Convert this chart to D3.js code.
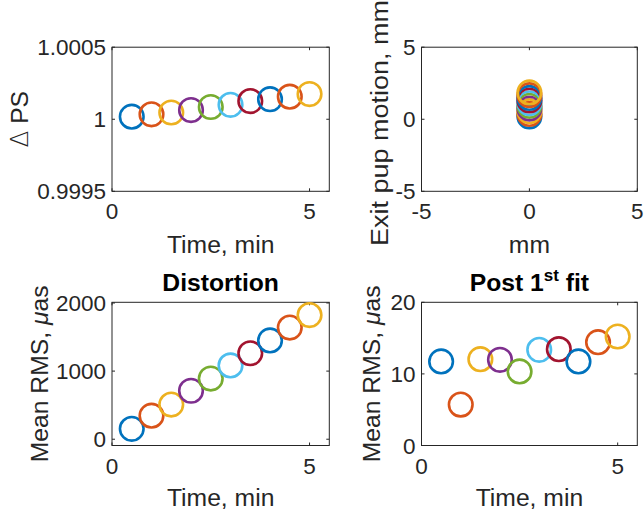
<!DOCTYPE html>
<html><head><meta charset="utf-8">
<script src="https://cdn.jsdelivr.net/npm/d3@7"></script>
<style>body{margin:0;background:#fff}svg{display:block}</style>
</head><body>
<script>
// ---- data ----
const times = [0.5, 1, 1.5, 2, 2.5, 3, 3.5, 4, 4.5, 5];
const deltaPS = [1.000018, 1.000034, 1.000047, 1.000064, 1.000085, 1.0001, 1.000126, 1.000139, 1.000157, 1.000175];
const pupX = [0, 0, 0, 0, 0, 0, 0, 0, 0, 0];
const pupY = [0.19, 0.37, 0.56, 0.74, 0.93, 1.11, 1.30, 1.48, 1.67, 1.86];
const distortionRMS = [153, 346, 509, 712, 891, 1084, 1262, 1450, 1639, 1822];
const postFitRMS = [11.74, 5.71, 12.06, 11.97, 10.35, 13.36, 13.46, 11.74, 14.43, 15.22];
const colors = ["#0072BD", "#D95319", "#EDB120", "#7E2F8E", "#77AC30", "#4DBEEE", "#A2142F"];
const ticks1Y = [0.9995, 1, 1.0005], ticks1YLabels = ["0.9995", "1", "1.0005"];
const ticksTime = [0, 5];
const ticks2 = [-5, 0, 5];
const ticks3Y = [0, 1000, 2000];
const ticks4Y = [0, 10, 20];

const W = 644, H = 513;
const FONT = "'Liberation Sans', Arial, Helvetica, sans-serif";
const TICK_FS = 22.5, LABEL_FS = 24.7;
const svg = d3.select("body").append("svg").attr("width", W).attr("height", H)
  .style("font-family", FONT);

function panel(o) {
  const x = d3.scaleLinear().domain(o.xdom).range([o.x0, o.x1]);
  const y = d3.scaleLinear().domain(o.ydom).range([o.y1, o.y0]);
  const g = svg.append("g");
  g.append("rect").attr("x", o.x0).attr("y", o.y0).attr("width", o.x1 - o.x0).attr("height", o.y1 - o.y0)
    .attr("fill", "#fff").attr("stroke", "#262626").attr("stroke-width", 1);
  const tl = 3;
  const xt = o.xticks;
  g.selectAll(null).data(xt).enter().append("line")
    .attr("x1", d => x(d)).attr("x2", d => x(d)).attr("y1", o.y1).attr("y2", o.y1 - tl)
    .attr("stroke", "#262626");
  g.selectAll(null).data(xt).enter().append("line")
    .attr("x1", d => x(d)).attr("x2", d => x(d)).attr("y1", o.y0).attr("y2", o.y0 + tl)
    .attr("stroke", "#262626");
  g.selectAll(null).data(xt).enter().append("text")
    .attr("x", d => x(d)).attr("y", o.y1 + 28).attr("text-anchor", "middle")
    .attr("font-size", TICK_FS).attr("fill", "#262626").text((d, i) => o.xlabels ? o.xlabels[i] : d);
  const yt = o.yticks;
  g.selectAll(null).data(yt).enter().append("line")
    .attr("y1", d => y(d)).attr("y2", d => y(d)).attr("x1", o.x0).attr("x2", o.x0 + tl)
    .attr("stroke", "#262626");
  g.selectAll(null).data(yt).enter().append("line")
    .attr("y1", d => y(d)).attr("y2", d => y(d)).attr("x1", o.x1).attr("x2", o.x1 - tl)
    .attr("stroke", "#262626");
  g.selectAll(null).data(yt).enter().append("text")
    .attr("x", o.x0 - 6).attr("y", d => y(d)).attr("dy", "0.36em").attr("text-anchor", "end")
    .attr("font-size", TICK_FS).attr("fill", "#262626").text((d, i) => o.ylabels ? o.ylabels[i] : d);
  g.append("g").selectAll("circle").data(o.xs.map((v, i) => [v, o.ys[i]])).enter().append("circle")
    .attr("cx", d => x(d[0])).attr("cy", d => y(d[1])).attr("r", 11.8)
    .attr("fill", "none").attr("stroke-width", 2.6)
    .attr("stroke", (d, i) => colors[i % colors.length]);
  g.append("text").attr("x", (o.x0 + o.x1) / 2).attr("y", o.xlabY).attr("text-anchor", "middle")
    .attr("font-size", LABEL_FS).attr("fill", "#262626").text(o.xlabel);
  const yc = o.ylabC != null ? o.ylabC : (o.y0 + o.y1) / 2;
  const yl = g.append("text").attr("transform", `translate(${o.ylabX},${yc}) rotate(-90)`)
    .attr("text-anchor", "middle").attr("font-size", LABEL_FS).attr("fill", "#262626");
  o.ylabel(yl);
  if (o.title) {
    const t = g.append("text").attr("x", (o.x0 + o.x1) / 2).attr("y", 291).attr("text-anchor", "middle")
      .attr("font-size", LABEL_FS).attr("font-weight", "bold").attr("fill", "#000");
    o.title(t);
  }
}

const L0 = 112, L1 = 329.3, R0 = 421.5, R1 = 637.3;
const T0 = 47.2, T1 = 191.3, B0 = 302.3, B1 = 445.5;

panel({id: 1, x0: L0, x1: L1, y0: T0, y1: T1, xdom: [0, 5.5], ydom: [0.9995, 1.0005],
  xticks: ticksTime, yticks: ticks1Y, ylabels: ticks1YLabels, xs: times, ys: deltaPS,
  xlabel: "Time, min", xlabY: 252.5, ylabX: 28,
  ylabel: t => { t.append("tspan").attr("font-family", "'DejaVu Sans', sans-serif").attr("font-weight", "200").text("Δ"); t.append("tspan").text(" PS"); }});

panel({id: 2, x0: R0, x1: R1, y0: T0, y1: T1, xdom: [-5, 5], ydom: [-5, 5],
  xticks: ticks2, yticks: ticks2, xs: pupX, ys: pupY,
  xlabel: "mm", xlabY: 252.5, ylabX: 388, ylabC: 123,
  ylabel: t => t.attr("textLength", 246).attr("lengthAdjust", "spacingAndGlyphs").text("Exit pup motion, mm")});

panel({id: 3, x0: L0, x1: L1, y0: B0, y1: B1, xdom: [0, 5.5], ydom: [-92, 2010],
  xticks: ticksTime, yticks: ticks3Y, xs: times, ys: distortionRMS,
  xlabel: "Time, min", xlabY: 506, ylabX: 48,
  ylabel: t => { t.append("tspan").text("Mean RMS, "); t.append("tspan").attr("font-style", "italic").text("μ"); t.append("tspan").text("as"); },
  title: t => t.text("Distortion")});

panel({id: 4, x0: R0, x1: R1, y0: B0, y1: B1, xdom: [0, 5.5], ydom: [0, 20],
  xticks: ticksTime, yticks: ticks4Y, xs: times, ys: postFitRMS,
  xlabel: "Time, min", xlabY: 506, ylabX: 380,
  ylabel: t => { t.append("tspan").text("Mean RMS, "); t.append("tspan").attr("font-style", "italic").text("μ"); t.append("tspan").text("as"); },
  title: t => { t.append("tspan").text("Post 1"); t.append("tspan").attr("font-size", 17).attr("dy", -10).text("st"); t.append("tspan").attr("dy", 10).text(" fit"); }});
</script>
</body></html>
